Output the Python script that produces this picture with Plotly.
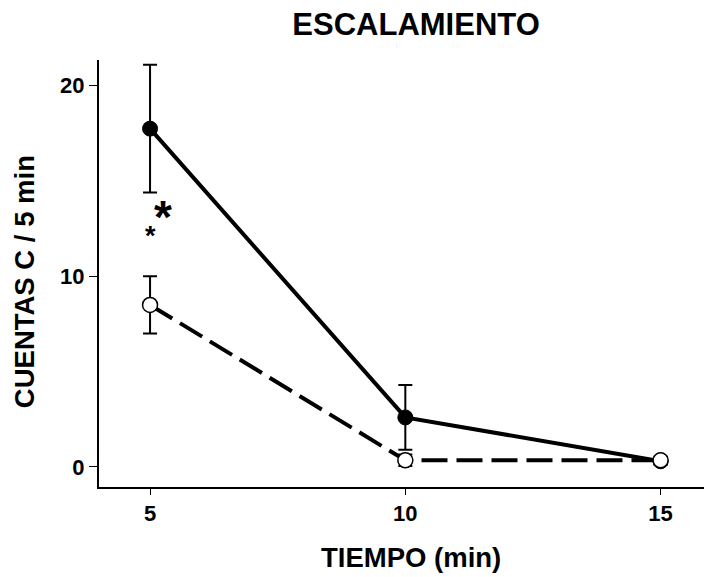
import plotly.graph_objects as go

tiempo = [5, 10, 15]
filled_y = [17.75, 2.6, 0.3]
filled_err = [3.35, 1.7, 0.2]
open_y = [8.5, 0.35, 0.35]
open_err = [1.5, 0.3, 0.2]

font = "Liberation Sans, Arial, sans-serif"

fig = go.Figure()
fig.add_trace(go.Scatter(
    x=tiempo, y=filled_y, mode="lines+markers",
    line=dict(color="black", width=4),
    marker=dict(symbol="circle", size=15, color="black", line=dict(color="black", width=1)),
    error_y=dict(type="data", array=filled_err, color="black", thickness=2, width=7),
    showlegend=False))
fig.add_trace(go.Scatter(
    x=tiempo, y=open_y, mode="lines+markers",
    line=dict(color="black", width=4, dash="26px,9px"),
    marker=dict(symbol="circle", size=15, color="white", line=dict(color="black", width=1.5)),
    error_y=dict(type="data", array=open_err, color="black", thickness=2, width=7),
    showlegend=False))

fig.add_annotation(x=5.25, y=13.1, text="<b>*</b>", showarrow=False,
                   font=dict(family=font, size=46, color="black"))
fig.add_annotation(x=5.0, y=12.1, text="<b>*</b>", showarrow=False,
                   font=dict(family=font, size=27, color="black"))

# axis titles
fig.add_annotation(xref="paper", yref="paper", x=0.516, y=-0.166, text="<b>TIEMPO (min)</b>",
                   showarrow=False, xanchor="center", yanchor="middle",
                   font=dict(family=font, size=27.5, color="black"))
fig.add_annotation(xref="paper", yref="paper", x=-0.124, y=0.482, text="<b>CUENTAS C / 5 min</b>",
                   showarrow=False, xanchor="center", yanchor="middle", textangle=-90,
                   font=dict(family=font, size=27.5, color="black"))

fig.update_layout(
    width=704, height=577,
    margin=dict(l=99, r=0, t=60, b=90),
    plot_bgcolor="white", paper_bgcolor="white",
    title=dict(text="<b>ESCALAMIENTO</b>", x=0.591, xanchor="center", y=0.958, yanchor="middle",
               font=dict(family=font, size=31, color="black")),
    font=dict(family=font, color="black"),
)
fig.update_xaxes(range=[4.0, 15.85], tickvals=[5, 10, 15], ticktext=["<b>5</b>", "<b>10</b>", "<b>15</b>"],
                 showline=True, linecolor="black", linewidth=2, ticks="outside", ticklen=6,
                 tickwidth=1, tickcolor="black", showgrid=False, zeroline=False,
                 tickfont=dict(family=font, size=22, color="black"))
fig.update_yaxes(range=[-1.05, 21.35], tickvals=[0, 10, 20], ticktext=["<b>0</b>", "<b>10</b>", "<b>20</b>"],
                 showline=True, linecolor="black", linewidth=2, ticks="outside", ticklen=8,
                 tickwidth=1, tickcolor="black", showgrid=False, zeroline=False,
                 tickfont=dict(family=font, size=22, color="black"))

fig.write_html("out.html")
